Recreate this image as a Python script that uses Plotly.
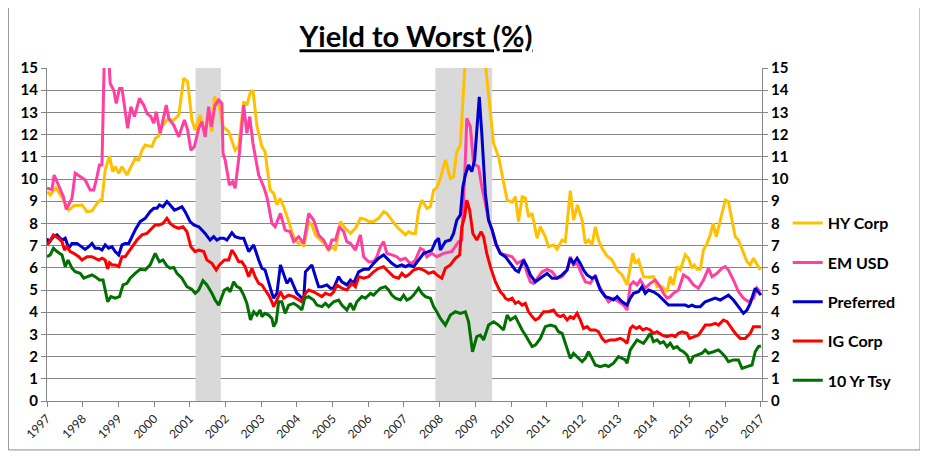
import plotly.graph_objects as go

# ---------------- data (decimal years, yield %) ----------------
years = list(range(1997, 2018))
year_labels = [str(y) for y in years]
recessions = [(2001.16, 2001.87), (2007.88, 2009.47)]

hy_t = [1997.00, 1997.09, 1997.25, 1997.45, 1997.61, 1997.75, 1997.98, 1998.12, 1998.26, 1998.40,
        1998.49, 1998.54, 1998.63, 1998.75, 1998.84, 1998.91, 1999.01, 1999.10, 1999.24, 1999.38,
        1999.47, 1999.57, 1999.66, 1999.75, 1999.94, 2000.03, 2000.13, 2000.22, 2000.36, 2000.55,
        2000.69, 2000.83, 2000.94, 2001.06, 2001.15, 2001.29, 2001.41, 2001.53, 2001.62, 2001.69,
        2001.81, 2001.93, 2002.09, 2002.27, 2002.37, 2002.51, 2002.60, 2002.69, 2002.77, 2002.88,
        2003.02, 2003.11, 2003.25, 2003.35, 2003.44, 2003.53, 2003.63, 2003.77, 2003.86, 2003.95,
        2004.05, 2004.14, 2004.19, 2004.33, 2004.42, 2004.52, 2004.66, 2004.80, 2004.89, 2004.98,
        2005.08, 2005.22, 2005.36, 2005.50, 2005.64, 2005.78, 2005.92, 2006.01, 2006.15, 2006.29,
        2006.43, 2006.52, 2006.66, 2006.80, 2006.90, 2007.04, 2007.13, 2007.22, 2007.32, 2007.41,
        2007.50, 2007.64, 2007.74, 2007.83, 2007.92, 2008.02, 2008.16, 2008.30, 2008.39, 2008.48,
        2008.58, 2008.67, 2008.75, 2008.90, 2009.05, 2009.20, 2009.28, 2009.42, 2009.51, 2009.65,
        2009.79, 2009.89, 2010.03, 2010.12, 2010.21, 2010.31, 2010.40, 2010.49, 2010.59, 2010.73,
        2010.82, 2010.96, 2011.05, 2011.19, 2011.29, 2011.43, 2011.52, 2011.66, 2011.75, 2011.86,
        2011.99, 2012.08, 2012.17, 2012.27, 2012.36, 2012.45, 2012.55, 2012.69, 2012.83, 2012.97,
        2013.11, 2013.25, 2013.34, 2013.41, 2013.48, 2013.57, 2013.71, 2013.85, 2013.99, 2014.09,
        2014.23, 2014.37, 2014.46, 2014.54, 2014.65, 2014.74, 2014.88, 2014.97, 2015.07, 2015.13,
        2015.21, 2015.30, 2015.39, 2015.49, 2015.58, 2015.66, 2015.75, 2015.86, 2016.00, 2016.09,
        2016.14, 2016.28, 2016.37, 2016.47, 2016.61, 2016.70, 2016.79, 2016.90, 2016.98]
hy_v = [9.43, 9.28, 9.6, 9.1, 8.6, 8.8, 8.83, 8.53, 8.56, 8.9,
        9.05, 9.05, 10.4, 11.03, 10.33, 10.55, 10.26, 10.55, 10.18, 10.63,
        10.93, 10.86, 11.3, 11.53, 11.46, 11.83, 11.94, 12.36, 12.66, 12.66,
        12.88, 14.54, 14.38, 12.66, 12.2, 12.88, 12.13, 12.81, 12.13, 13.7,
        13.4, 12.36, 12.13, 11.3, 11.46, 13.48, 13.33, 13.86, 14.0, 12.4,
        11.46, 11.23, 9.5, 9.35, 8.83, 9.13, 8.75, 8.1, 7.6, 7.25,
        7.1, 7.18, 6.95, 8.08, 7.93, 7.48, 7.25, 7.03, 6.8, 6.95,
        6.8, 8.08, 7.78, 7.55, 7.78, 8.23, 8.18, 8.08, 8.08, 8.23,
        8.53, 8.45, 8.15, 7.85, 7.7, 7.48, 7.63, 7.55, 7.55, 8.6,
        9.05, 8.68, 8.75, 9.5, 9.6, 10.03, 10.86, 10.03, 10.1, 11.23,
        11.53, 14.9, 17.5, 20.5, 19.0, 17.0, 15.2, 13.1, 11.6, 11.0,
        9.9, 9.05, 8.95, 9.2, 8.08, 9.2, 9.14, 8.3, 8.46, 7.33,
        7.85, 7.4, 6.95, 7.03, 6.83, 7.25, 7.18, 9.47, 8.15, 8.83,
        8.15, 7.1, 7.25, 7.03, 7.85, 7.25, 6.88, 6.53, 6.35, 5.9,
        5.68, 5.23, 6.05, 6.65, 6.2, 6.35, 5.6, 5.57, 5.6, 5.15,
        5.15, 4.92, 5.6, 5.23, 6.05, 5.9, 6.58, 6.43, 5.98, 6.13,
        5.93, 5.93, 6.8, 7.1, 7.48, 8.0, 7.4, 8.15, 9.05, 8.98,
        8.6, 7.4, 7.25, 6.8, 6.27, 6.13, 6.43, 6.13, 5.9]

em_t = [1997.00, 1997.14, 1997.20, 1997.32, 1997.42, 1997.46, 1997.54, 1997.65, 1997.70, 1997.79,
        1997.93, 1998.07, 1998.21, 1998.31, 1998.40, 1998.47, 1998.54, 1998.59, 1998.61, 1998.69,
        1998.77, 1998.87, 1998.94, 1999.03, 1999.10, 1999.26, 1999.35, 1999.45, 1999.59, 1999.71,
        1999.80, 1999.91, 1999.99, 2000.06, 2000.17, 2000.27, 2000.34, 2000.41, 2000.55, 2000.69,
        2000.85, 2000.94, 2001.03, 2001.13, 2001.25, 2001.34, 2001.43, 2001.53, 2001.60, 2001.71,
        2001.81, 2001.90, 2001.93, 2001.99, 2002.11, 2002.20, 2002.27, 2002.39, 2002.51, 2002.60,
        2002.68, 2002.77, 2002.93, 2003.07, 2003.16, 2003.30, 2003.39, 2003.54, 2003.67, 2003.81,
        2003.91, 2004.05, 2004.19, 2004.33, 2004.47, 2004.61, 2004.75, 2004.89, 2004.98, 2005.08,
        2005.19, 2005.31, 2005.40, 2005.50, 2005.64, 2005.78, 2005.87, 2006.01, 2006.15, 2006.24,
        2006.34, 2006.43, 2006.52, 2006.66, 2006.80, 2006.90, 2007.04, 2007.13, 2007.22, 2007.32,
        2007.46, 2007.55, 2007.64, 2007.78, 2007.92, 2008.11, 2008.34, 2008.53, 2008.62, 2008.72,
        2008.76, 2008.86, 2008.95, 2009.09, 2009.18, 2009.28, 2009.37, 2009.47, 2009.56, 2009.70,
        2009.84, 2010.03, 2010.17, 2010.35, 2010.45, 2010.54, 2010.63, 2010.77, 2010.87, 2011.01,
        2011.15, 2011.29, 2011.43, 2011.57, 2011.66, 2011.75, 2011.85, 2011.99, 2012.08, 2012.22,
        2012.36, 2012.45, 2012.59, 2012.73, 2012.87, 2013.01, 2013.15, 2013.25, 2013.34, 2013.43,
        2013.53, 2013.62, 2013.76, 2013.90, 2014.04, 2014.18, 2014.27, 2014.37, 2014.46, 2014.55,
        2014.69, 2014.83, 2014.97, 2015.11, 2015.25, 2015.39, 2015.53, 2015.63, 2015.77, 2015.91,
        2016.00, 2016.09, 2016.23, 2016.37, 2016.51, 2016.65, 2016.79, 2016.89, 2016.98]
em_v = [9.58, 9.53, 10.18, 9.73, 9.43, 9.2, 8.63, 8.98, 9.13, 10.26,
        10.1, 9.95, 9.5, 9.5, 10.1, 10.63, 10.63, 14.9, 15.8, 16.5,
        14.3, 14.0, 13.4, 14.08, 14.08, 12.28, 13.26, 12.81, 13.63, 13.33,
        12.96, 12.81, 12.51, 13.03, 12.06, 12.81, 13.33, 12.73, 12.43, 11.9,
        12.66, 12.2, 11.3, 11.46, 12.28, 12.58, 11.9, 13.26, 12.36, 13.33,
        13.56, 13.4, 11.16, 10.86, 9.73, 9.88, 9.58, 11.16, 13.33, 12.06,
        12.81, 11.6, 10.18, 9.65, 9.2, 8.0, 7.85, 8.45, 7.7, 7.63,
        7.18, 7.4, 7.1, 8.45, 8.15, 7.48, 7.25, 6.8, 7.25, 7.25,
        7.85, 7.63, 7.18, 7.1, 6.8, 7.48, 6.5, 6.27, 6.27, 6.5,
        6.95, 7.18, 6.65, 6.58, 6.5, 6.35, 6.43, 6.27, 6.2, 6.35,
        6.88, 6.8, 6.5, 6.65, 6.5, 6.65, 6.73, 7.18, 7.25, 10.86,
        12.73, 12.36, 10.7, 10.55, 9.65, 8.9, 8.15, 7.7, 7.1, 6.65,
        6.58, 6.5, 6.2, 6.35, 5.75, 5.37, 5.3, 5.6, 5.82, 5.93,
        5.82, 5.53, 5.6, 5.9, 6.5, 6.13, 6.2, 5.68, 5.37, 5.3,
        5.68, 5.23, 4.85, 4.47, 4.63, 4.47, 4.32, 4.1, 5.23, 5.37,
        5.23, 5.45, 5.08, 5.3, 5.45, 5.15, 4.85, 4.63, 4.7, 4.85,
        5.0, 5.68, 5.53, 5.23, 5.08, 5.45, 5.98, 5.6, 5.75, 5.98,
        6.05, 5.9, 5.45, 4.92, 4.63, 4.47, 4.63, 5.08, 4.92]

pf_t = [1997.00, 1997.04, 1997.18, 1997.28, 1997.42, 1997.51, 1997.61, 1997.70, 1997.84, 1997.98,
        1998.07, 1998.17, 1998.26, 1998.35, 1998.45, 1998.54, 1998.63, 1998.73, 1998.82, 1998.91,
        1999.01, 1999.10, 1999.19, 1999.29, 1999.38, 1999.47, 1999.61, 1999.75, 1999.89, 1999.99,
        2000.08, 2000.15, 2000.25, 2000.36, 2000.45, 2000.57, 2000.69, 2000.78, 2000.87, 2001.01,
        2001.11, 2001.25, 2001.34, 2001.43, 2001.57, 2001.67, 2001.76, 2001.85, 2001.95, 2002.04,
        2002.18, 2002.27, 2002.41, 2002.51, 2002.65, 2002.79, 2002.93, 2003.02, 2003.11, 2003.21,
        2003.30, 2003.35, 2003.44, 2003.54, 2003.63, 2003.72, 2003.82, 2003.91, 2004.00, 2004.10,
        2004.19, 2004.24, 2004.33, 2004.42, 2004.52, 2004.61, 2004.70, 2004.84, 2004.94, 2005.03,
        2005.17, 2005.26, 2005.40, 2005.50, 2005.59, 2005.73, 2005.87, 2006.01, 2006.15, 2006.29,
        2006.43, 2006.52, 2006.66, 2006.80, 2006.94, 2007.04, 2007.13, 2007.27, 2007.41, 2007.55,
        2007.69, 2007.78, 2007.88, 2007.97, 2008.02, 2008.16, 2008.30, 2008.39, 2008.48, 2008.58,
        2008.65, 2008.72, 2008.81, 2008.90, 2008.98, 2009.04, 2009.11, 2009.18, 2009.28, 2009.37,
        2009.47, 2009.59, 2009.70, 2009.84, 2009.98, 2010.12, 2010.21, 2010.35, 2010.45, 2010.54,
        2010.68, 2010.82, 2011.01, 2011.15, 2011.29, 2011.43, 2011.57, 2011.66, 2011.75, 2011.85,
        2011.94, 2012.03, 2012.13, 2012.27, 2012.36, 2012.50, 2012.64, 2012.78, 2012.87, 2012.97,
        2013.11, 2013.25, 2013.34, 2013.43, 2013.57, 2013.67, 2013.76, 2013.85, 2013.99, 2014.13,
        2014.27, 2014.41, 2014.55, 2014.74, 2014.88, 2014.97, 2015.07, 2015.16, 2015.30, 2015.44,
        2015.58, 2015.72, 2015.86, 2016.00, 2016.09, 2016.23, 2016.37, 2016.51, 2016.61, 2016.70,
        2016.84, 2016.93, 2017.00]
pf_v = [7.33, 7.1, 7.4, 7.48, 7.25, 7.33, 6.88, 7.1, 7.1, 6.95,
        6.83, 6.95, 7.1, 6.88, 6.88, 6.8, 7.03, 6.88, 6.95, 6.73,
        6.58, 7.03, 7.1, 7.1, 7.4, 7.7, 8.08, 8.23, 8.53, 8.68,
        8.68, 8.83, 8.75, 8.98, 8.83, 8.6, 8.68, 8.75, 8.53, 8.08,
        7.93, 7.85, 7.7, 7.55, 7.25, 7.4, 7.25, 7.33, 7.33, 7.25,
        7.58, 7.4, 7.33, 7.33, 6.73, 7.03, 6.35, 5.98, 5.9, 5.3,
        4.85, 4.63, 4.85, 6.13, 5.75, 5.3, 5.53, 5.15, 4.85, 4.7,
        4.55, 5.82, 5.98, 6.13, 5.6, 5.15, 5.15, 5.23, 5.08, 5.08,
        5.6, 5.37, 5.23, 5.45, 5.3, 5.82, 5.93, 5.93, 6.2, 6.43,
        6.58, 6.43, 6.2, 6.05, 6.13, 6.05, 6.13, 6.05, 6.35, 6.65,
        6.73, 6.8, 7.18, 7.33, 6.8, 7.18, 7.25, 7.55, 8.15, 8.38,
        9.65, 10.18, 10.63, 10.33, 10.86, 12.36, 13.7, 12.06, 9.35, 8.15,
        7.7, 7.03, 6.65, 6.5, 6.2, 5.9, 5.82, 6.35, 6.05, 5.68,
        5.37, 5.53, 5.75, 5.53, 5.53, 5.68, 5.9, 6.43, 6.2, 6.43,
        6.2, 5.9, 5.68, 5.53, 5.6, 5.0, 4.7, 4.63, 4.55, 4.7,
        4.47, 4.32, 4.63, 4.85, 4.92, 5.15, 4.85, 5.0, 4.92, 4.77,
        4.55, 4.32, 4.32, 4.32, 4.32, 4.25, 4.32, 4.25, 4.25, 4.47,
        4.55, 4.63, 4.55, 4.7, 4.77, 4.55, 4.25, 3.95, 4.1, 4.4,
        5.08, 4.92, 4.77]

ig_t = [1997.00, 1997.07, 1997.18, 1997.32, 1997.42, 1997.49, 1997.56, 1997.65, 1997.75, 1997.89,
        1997.98, 1998.12, 1998.26, 1998.35, 1998.45, 1998.54, 1998.63, 1998.70, 1998.75, 1998.82,
        1998.91, 1999.01, 1999.10, 1999.19, 1999.29, 1999.38, 1999.52, 1999.66, 1999.80, 1999.94,
        2000.03, 2000.15, 2000.25, 2000.36, 2000.45, 2000.57, 2000.69, 2000.81, 2000.92, 2001.03,
        2001.15, 2001.25, 2001.39, 2001.48, 2001.62, 2001.74, 2001.83, 2001.97, 2002.09, 2002.18,
        2002.27, 2002.37, 2002.46, 2002.55, 2002.65, 2002.74, 2002.83, 2002.93, 2003.02, 2003.11,
        2003.21, 2003.30, 2003.35, 2003.44, 2003.54, 2003.63, 2003.77, 2003.91, 2004.05, 2004.14,
        2004.24, 2004.33, 2004.47, 2004.61, 2004.70, 2004.80, 2004.94, 2005.03, 2005.12, 2005.26,
        2005.40, 2005.54, 2005.64, 2005.73, 2005.87, 2006.01, 2006.15, 2006.29, 2006.43, 2006.57,
        2006.71, 2006.85, 2006.94, 2007.04, 2007.13, 2007.27, 2007.41, 2007.55, 2007.69, 2007.83,
        2007.92, 2008.06, 2008.16, 2008.30, 2008.44, 2008.56, 2008.62, 2008.70, 2008.76, 2008.84,
        2008.93, 2009.04, 2009.16, 2009.23, 2009.32, 2009.42, 2009.56, 2009.70, 2009.79, 2009.84,
        2009.93, 2010.03, 2010.12, 2010.21, 2010.31, 2010.40, 2010.49, 2010.59, 2010.68, 2010.77,
        2010.91, 2011.05, 2011.19, 2011.29, 2011.38, 2011.47, 2011.57, 2011.66, 2011.75, 2011.85,
        2011.94, 2012.03, 2012.13, 2012.22, 2012.36, 2012.45, 2012.55, 2012.64, 2012.78, 2012.92,
        2013.06, 2013.15, 2013.25, 2013.34, 2013.41, 2013.51, 2013.60, 2013.69, 2013.79, 2013.90,
        2013.99, 2014.09, 2014.23, 2014.37, 2014.51, 2014.60, 2014.69, 2014.79, 2014.93, 2015.00,
        2015.11, 2015.25, 2015.35, 2015.44, 2015.58, 2015.72, 2015.81, 2015.95, 2016.05, 2016.14,
        2016.28, 2016.42, 2016.56, 2016.70, 2016.79, 2017.00]
ig_v = [7.03, 7.18, 7.48, 7.33, 7.18, 6.8, 6.95, 6.73, 6.65, 6.5,
        6.35, 6.5, 6.5, 6.43, 6.35, 6.43, 6.35, 5.95, 6.23, 6.13,
        6.13, 6.05, 6.5, 6.5, 6.73, 6.95, 7.25, 7.48, 7.55, 7.78,
        7.93, 7.93, 8.0, 8.23, 8.0, 7.85, 7.78, 7.85, 7.63, 6.95,
        6.73, 6.8, 6.73, 6.35, 6.2, 5.9, 6.13, 6.35, 6.35, 6.8,
        6.58, 6.27, 6.27, 6.05, 5.6, 5.98, 5.6, 5.3, 5.23, 5.0,
        4.77, 4.47, 4.25, 4.55, 4.92, 4.63, 4.77, 4.7, 4.55, 4.47,
        4.85, 5.0, 4.92, 4.77, 4.7, 4.85, 4.77, 4.92, 5.23, 5.08,
        5.0, 5.3, 5.15, 5.6, 5.53, 5.6, 5.82, 5.98, 6.05, 5.82,
        5.6, 5.53, 5.75, 5.6, 5.68, 5.9, 5.98, 5.9, 5.75, 5.82,
        5.68, 5.53, 5.98, 6.13, 6.43, 6.58, 7.85, 8.3, 9.05, 8.6,
        7.55, 7.25, 7.63, 7.4, 6.65, 6.05, 5.37, 4.92, 4.77, 4.63,
        4.55, 4.63, 4.4, 4.47, 4.32, 4.4, 4.02, 3.8, 3.65, 3.72,
        4.02, 4.02, 4.1, 3.87, 3.8, 3.87, 3.65, 3.8, 3.72, 3.95,
        3.65, 3.27, 3.35, 3.2, 3.2, 3.12, 2.82, 2.67, 2.75, 2.75,
        2.82, 2.75, 2.6, 3.27, 3.38, 3.27, 3.35, 3.2, 3.27, 3.2,
        3.05, 3.12, 2.97, 2.9, 2.97, 2.9, 3.05, 3.12, 3.05, 2.82,
        2.9, 2.97, 3.2, 3.42, 3.42, 3.5, 3.42, 3.65, 3.57, 3.35,
        3.05, 2.82, 2.82, 3.05, 3.35, 3.35]

ty_t = [1997.00, 1997.09, 1997.18, 1997.28, 1997.42, 1997.51, 1997.59, 1997.70, 1997.79, 1997.93,
        1998.03, 1998.17, 1998.26, 1998.35, 1998.47, 1998.57, 1998.63, 1998.70, 1998.79, 1998.91,
        1999.03, 1999.13, 1999.24, 1999.33, 1999.47, 1999.61, 1999.75, 1999.89, 2000.03, 2000.15,
        2000.25, 2000.36, 2000.45, 2000.55, 2000.64, 2000.78, 2000.92, 2001.06, 2001.15, 2001.25,
        2001.37, 2001.48, 2001.62, 2001.71, 2001.81, 2001.90, 2001.97, 2002.06, 2002.13, 2002.23,
        2002.32, 2002.41, 2002.51, 2002.60, 2002.66, 2002.70, 2002.79, 2002.88, 2002.97, 2003.02,
        2003.11, 2003.21, 2003.30, 2003.35, 2003.42, 2003.49, 2003.58, 2003.67, 2003.77, 2003.91,
        2004.05, 2004.14, 2004.22, 2004.33, 2004.47, 2004.56, 2004.70, 2004.80, 2004.89, 2005.03,
        2005.17, 2005.26, 2005.40, 2005.50, 2005.59, 2005.68, 2005.82, 2005.92, 2006.06, 2006.15,
        2006.24, 2006.34, 2006.48, 2006.57, 2006.66, 2006.76, 2006.90, 2006.99, 2007.08, 2007.18,
        2007.27, 2007.41, 2007.50, 2007.60, 2007.74, 2007.83, 2007.92, 2008.02, 2008.16, 2008.30,
        2008.44, 2008.58, 2008.72, 2008.81, 2008.92, 2009.04, 2009.14, 2009.23, 2009.37, 2009.51,
        2009.65, 2009.79, 2009.89, 2009.98, 2010.12, 2010.21, 2010.31, 2010.40, 2010.49, 2010.59,
        2010.68, 2010.82, 2010.96, 2011.10, 2011.24, 2011.33, 2011.43, 2011.52, 2011.66, 2011.75,
        2011.89, 2011.99, 2012.08, 2012.17, 2012.27, 2012.36, 2012.50, 2012.64, 2012.73, 2012.87,
        2013.01, 2013.11, 2013.20, 2013.25, 2013.34, 2013.43, 2013.53, 2013.62, 2013.71, 2013.81,
        2013.90, 2013.99, 2014.09, 2014.18, 2014.27, 2014.37, 2014.46, 2014.55, 2014.65, 2014.74,
        2014.83, 2014.93, 2015.02, 2015.10, 2015.21, 2015.35, 2015.44, 2015.53, 2015.67, 2015.81,
        2015.91, 2016.00, 2016.09, 2016.23, 2016.37, 2016.47, 2016.61, 2016.75, 2016.84, 2016.93,
        2017.00]
ty_v = [6.5, 6.58, 6.88, 6.73, 6.58, 6.05, 6.35, 5.98, 5.82, 5.75,
        5.53, 5.6, 5.68, 5.6, 5.45, 5.45, 4.92, 4.47, 4.7, 4.63,
        4.7, 5.23, 5.3, 5.53, 5.75, 5.93, 5.9, 6.13, 6.65, 6.27,
        6.35, 6.08, 5.98, 6.02, 5.75, 5.53, 5.15, 5.03, 4.85, 5.0,
        5.42, 5.23, 4.85, 4.55, 4.32, 4.7, 5.0, 5.08, 4.92, 5.37,
        5.15, 5.08, 4.77, 4.4, 4.0, 3.65, 4.02, 3.87, 4.1, 3.8,
        3.95, 3.87, 3.72, 3.35, 3.57, 4.47, 4.47, 3.95, 4.32, 4.4,
        4.25, 4.1, 4.63, 4.7, 4.55, 4.32, 4.25, 4.4, 4.25, 4.47,
        4.55, 4.32, 4.1, 4.4, 4.1, 4.47, 4.7, 4.63, 4.85, 4.77,
        4.92, 5.08, 5.15, 5.0, 4.77, 4.63, 4.55, 4.77, 4.55, 4.63,
        4.77, 5.08, 4.85, 4.7, 4.63, 4.25, 4.02, 3.72, 3.42, 3.87,
        4.02, 3.95, 4.02, 3.57, 2.22, 2.9, 2.97, 2.75, 3.42, 3.57,
        3.42, 3.2, 3.87, 3.65, 3.8, 3.5, 3.2, 2.97, 2.75, 2.45,
        2.52, 2.82, 3.35, 3.42, 3.35, 3.12, 3.05, 2.6, 1.92, 2.15,
        1.92, 1.77, 1.92, 2.22, 1.92, 1.62, 1.55, 1.62, 1.55, 1.7,
        2.0, 1.92, 1.85, 1.7, 2.3, 2.52, 2.75, 2.67, 2.6, 2.82,
        3.05, 2.67, 2.75, 2.6, 2.67, 2.45, 2.6, 2.37, 2.45, 2.3,
        2.22, 2.07, 1.7, 2.0, 2.07, 2.15, 2.3, 2.15, 2.22, 2.3,
        2.15, 2.0, 1.77, 1.85, 1.85, 1.47, 1.55, 1.62, 2.22, 2.45,
        2.48]

series_names = ["HY Corp", "EM USD", "Preferred", "IG Corp", "10 Yr Tsy"]
series_t = [hy_t, em_t, pf_t, ig_t, ty_t]
series_v = [hy_v, em_v, pf_v, ig_v, ty_v]
colors = ["#FFC000", "#FF40A0", "#0000CC", "#FF0000", "#007000"]

FONT = "Lato, 'Open Sans', sans-serif"
GRID = "#868686"

fig = go.Figure()
for name, t, v, c in zip(series_names, series_t, series_v, colors):
    fig.add_trace(go.Scatter(x=t, y=v, mode="lines", name=name, legendgroup=name,
                             line=dict(color=c, width=3)))

for x0, x1 in recessions:
    fig.add_shape(type="rect", xref="x", yref="y", x0=x0, x1=x1, y0=0, y1=15,
                  fillcolor="#D9D9D9", line_width=0, layer="between")

# outer chart border
fig.add_shape(type="rect", xref="paper", yref="paper", x0=-0.054, x1=1.2210, y0=-0.147, y1=1.190,
              line=dict(color="#8C8C8C", width=1), fillcolor="rgba(0,0,0,0)", layer="above")

yaxis_common = dict(range=[0, 15], dtick=1, tick0=0, ticks="outside", ticklen=5, tickcolor=GRID,
                    showline=True, linecolor=GRID, linewidth=1, zeroline=False,
                    tickfont=dict(family=FONT, size=15, color="black", weight="bold"))

fig.update_layout(
    width=920, height=449,
    margin=dict(l=39, r=166, t=60, b=56),
    paper_bgcolor="white", plot_bgcolor="white",
    title=dict(text="Yield to Worst (%)", xref="container", x=0.4435, xanchor="center",
               yref="container", y=0.935, yanchor="middle",
               font=dict(family=FONT, size=29, color="black", weight="bold", lineposition="under")),
    xaxis=dict(range=[1997, 2017.03], tickvals=years, ticktext=year_labels, tickangle=-45,
               ticks="outside", ticklen=5, tickcolor=GRID, showgrid=False, zeroline=False,
               showline=True, linecolor=GRID,
               tickfont=dict(family=FONT, size=12, color="#222222")),
    yaxis=dict(showgrid=True, gridcolor=GRID, gridwidth=1, **yaxis_common),
    yaxis2=dict(overlaying="y", side="right", showgrid=False, **yaxis_common),
    legend=dict(x=1.036, xanchor="left", y=0.585, yanchor="top", tracegroupgap=15.5,
                bgcolor="rgba(0,0,0,0)", itemwidth=30,
                font=dict(family=FONT, size=16, color="black", weight="bold")),
    showlegend=True,
)

# attach an invisible trace to the right axis so it is rendered
fig.add_trace(go.Scatter(x=[1997], y=[0], yaxis="y2", mode="lines", showlegend=False,
                         hoverinfo="skip", line=dict(color="rgba(0,0,0,0)")))

fig.write_html("out.html")
